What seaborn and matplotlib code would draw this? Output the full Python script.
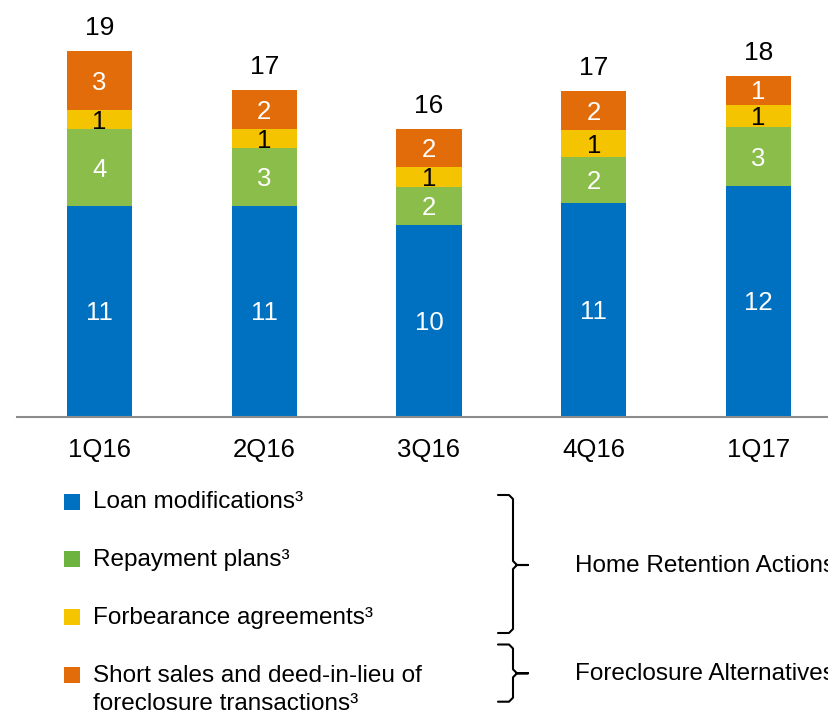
import numpy as np
import pandas as pd
import matplotlib
matplotlib.use("Agg")
import matplotlib.pyplot as plt
from matplotlib.patches import Rectangle
import seaborn as sns

# bar heights (the printed labels are rounded)
quarters = ["1Q16", "2Q16", "3Q16", "4Q16", "1Q17"]
loan_mods = [11.0, 11.0, 10.0, 11.13, 12.02]
repayment = [3.97, 2.98, 1.98, 2.40, 3.06]
forbearance = [1.0, 0.99, 1.01, 1.41, 1.18]
short_sales = [3.07, 2.07, 2.01, 2.02, 1.49]

loan_labels = ["11", "11", "10", "11", "12"]
repay_labels = ["4", "3", "2", "2", "3"]
forb_labels = ["1", "1", "1", "1", "1"]
short_labels = ["3", "2", "2", "2", "1"]
total_labels = ["19", "17", "16", "17", "18"]

legend_names = [["Loan modifications\u00b3"], ["Repayment plans\u00b3"],
                ["Forbearance agreements\u00b3"],
                ["Short sales and deed-in-lieu of",
                 "foreclosure transactions\u00b3"]]
group_names = ["Home Retention Actions", "Foreclosure Alternatives"]
bar_colors = ["#0070C0", "#8ABD4A", "#F5C400", "#E36C0A"]
legend_colors = ["#0070C0", "#6DB33F", "#F5C600", "#E36C0A"]
label_colors = ["white", "white", "black", "white"]

sns.set_theme(style="white")
plt.rcParams["font.family"] = ["Liberation Sans", "DejaVu Sans"]
plt.rcParams["text.color"] = "black"

df = pd.DataFrame({"quarter": quarters, "loan": loan_mods, "repay": repayment,
                   "forb": forbearance, "short": short_sales})
cols = ["loan", "repay", "forb", "short"]
cum = df[cols].cumsum(axis=1)
bottoms = cum - df[cols]

fig = plt.figure(figsize=(8.29, 7.11), dpi=100)
ax = fig.add_axes([17 / 829, (711 - 416.7) / 711, 812 / 829, 416.7 / 711])

# stacked bars: draw cumulative totals, tallest first
for col, c in reversed(list(zip(cols, bar_colors))):
    sns.barplot(x=df["quarter"], y=cum[col], color=c, width=0.395,
                saturation=1, linewidth=0, errorbar=None, ax=ax)

ax.set_xlim(-0.5007, 4.428)
ax.set_ylim(0, 416.7 / 19.2)

seg_labels = [loan_labels, repay_labels, forb_labels, short_labels]
for j, col in enumerate(cols):
    for i in range(len(quarters)):
        y = bottoms[col][i] + df[col][i] / 2
        ax.annotate(seg_labels[j][i], (i, y), xytext=(0, -6.6),
                    textcoords="offset points", ha="center", va="baseline",
                    fontsize=18.5, color=label_colors[j])

for i in range(len(quarters)):
    ax.annotate(total_labels[i], (i, cum["short"][i]), xytext=(0, 11.5),
                textcoords="offset points", ha="center", va="baseline",
                fontsize=19, color="black")

sns.despine(ax=ax, left=True)
ax.spines["bottom"].set_color("#8c8c8c")
ax.spines["bottom"].set_linewidth(1.5)
ax.set_yticks([])
ax.tick_params(axis="x", length=0, pad=15, labelsize=18.5, labelcolor="black")
ax.set_xlabel("")
ax.set_ylabel("")

# legend + braces in pixel coordinates
ov = fig.add_axes([0, 0, 1, 1])
ov.set_xlim(0, 829)
ov.set_ylim(711, 0)
ov.axis("off")

sq_centers = [501.7, 559, 617, 675]
baselines = [508.3, 566, 624, 681.7]
for lines, c, cy, yb in zip(legend_names, legend_colors, sq_centers, baselines):
    ov.add_patch(Rectangle((64, cy - 8), 16, 16, color=c, lw=0))
    for k, line in enumerate(lines):
        ov.text(93, yb + k * 27.8, line, fontsize=17.5, va="baseline",
                ha="left", color="black")


def brace(x0, xv, xtip, ytop, ymid, ybot, r=4):
    xs = [x0, xv - r, xv, xv, xv + r, xtip, xv + r, xv, xv, xv - r, x0]
    ys = [ytop, ytop, ytop + r, ymid - r, ymid, ymid, ymid, ymid + r,
          ybot - r, ybot, ybot]
    ov.plot(xs, ys, color="black", lw=1.5, solid_joinstyle="round")


brace(498, 513, 528, 495, 565, 633)
brace(498, 513, 528, 644.5, 673.3, 701.7)

ov.text(575, 572.3, group_names[0], fontsize=17.5, va="baseline", color="black")
ov.text(575, 680, group_names[1], fontsize=17.5, va="baseline", color="black")

fig.savefig("out.png", dpi=100)
